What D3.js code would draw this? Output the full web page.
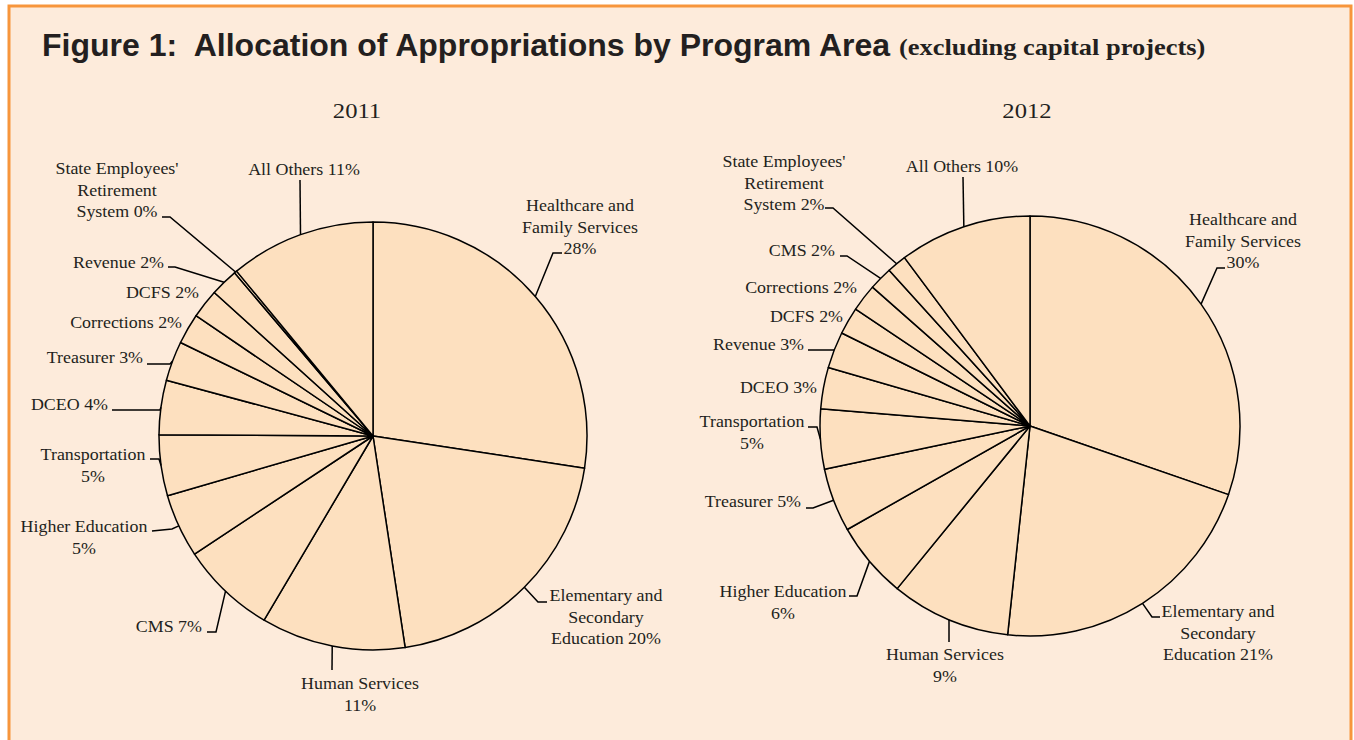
<!DOCTYPE html>
<html>
<head>
<meta charset="utf-8">
<script src="https://cdn.jsdelivr.net/npm/d3@7"></script>
<style>
  html, body { margin: 0; padding: 0; background: #ffffff; }
  svg { display: block; }
</style>
</head>
<body>
<svg id="chart"></svg>
<script>
// Chart data
const years = ["2011", "2012"];

const categories2011 = ["Healthcare and Family Services", "Elementary and Secondary Education", "Human Services",
    "CMS", "Higher Education", "Transportation", "DCEO", "Treasurer", "Corrections", "DCFS", "Revenue",
    "State Employees' Retirement System", "All Others"];
const values2011 = [27.4, 20.2, 10.9, 7.2, 4.8, 4.6, 4.1, 3.0, 2.3, 2.2, 2.1, 0.2, 11.0];
const pct2011 = [28, 20, 11, 7, 5, 5, 4, 3, 2, 2, 2, 0, 11];

const categories2012 = ["Healthcare and Family Services", "Elementary and Secondary Education", "Human Services",
    "Higher Education", "Treasurer", "Transportation", "DCEO", "Revenue", "DCFS", "Corrections", "CMS",
    "State Employees' Retirement System", "All Others"];
const values2012 = [30.3, 21.4, 9.2, 5.9, 4.9, 4.6, 3.2, 2.8, 2.1, 2.1, 1.8, 1.5, 10.2];
const pct2012 = [30, 21, 9, 6, 5, 5, 3, 3, 2, 2, 2, 2, 10];

// Label layout, relative to each pie centre: words per line, text anchor point,
// and leader line (elbow, end) points. null leader = no leader line.
const layout2011 = [
    { wrap: [2, 2, 1], anchor: "middle", x: 207, y: -225, elbow: [180, -183], end: [189, -183] },
    { wrap: [2, 1, 2], anchor: "middle", x: 233, y: 165, elbow: [165, 166], end: [174, 166] },
    { wrap: [2, 1], anchor: "middle", x: -13, y: 253, elbow: [-41, 234], end: [-41, 234] },
    { wrap: [2], anchor: "end", x: -171, y: 196, elbow: [-157, 196], end: [-166, 196] },
    { wrap: [2, 1], anchor: "middle", x: -289, y: 96, elbow: [-201, 93], end: [-221, 95] },
    { wrap: [1, 1], anchor: "middle", x: -280, y: 24, elbow: [-214, 23], end: [-223, 23] },
    { wrap: [2], anchor: "end", x: -265, y: -26, elbow: [-213, -26], end: [-261, -26] },
    { wrap: [2], anchor: "end", x: -230, y: -73, elbow: [-203, -72], end: [-226, -72] },
    { wrap: [2], anchor: "end", x: -191, y: -108, elbow: null },
    { wrap: [2], anchor: "end", x: -174, y: -138, elbow: null },
    { wrap: [2], anchor: "end", x: -209, y: -168, elbow: [-198, -169], end: [-205, -169] },
    { wrap: [2, 1, 2], anchor: "middle", x: -256, y: -262, elbow: [-203, -219], end: [-211, -219] },
    { wrap: [3], anchor: "middle", x: -69, y: -261, elbow: [-73, -256], end: [-73, -256] }
];

const layout2012 = [
    { wrap: [2, 2, 1], anchor: "middle", x: 213, y: -201, elbow: [187, -158], end: [195, -158] },
    { wrap: [2, 1, 2], anchor: "middle", x: 188, y: 191, elbow: [122, 191], end: [130, 191] },
    { wrap: [2, 1], anchor: "middle", x: -85, y: 234, elbow: [-81, 216], end: [-81, 216] },
    { wrap: [2, 1], anchor: "middle", x: -247, y: 171, elbow: [-173, 170], end: [-181, 170] },
    { wrap: [2], anchor: "end", x: -229, y: 81, elbow: [-217, 82], end: [-224, 82] },
    { wrap: [1, 1], anchor: "middle", x: -278, y: 1, elbow: [-213, 1], end: [-222, 1] },
    { wrap: [2], anchor: "end", x: -213, y: -33, elbow: null },
    { wrap: [2], anchor: "end", x: -226, y: -76, elbow: [-197, -76], end: [-222, -76] },
    { wrap: [2], anchor: "end", x: -187, y: -104, elbow: null },
    { wrap: [2], anchor: "end", x: -173, y: -133, elbow: null },
    { wrap: [2], anchor: "end", x: -195, y: -170, elbow: [-183, -170], end: [-190, -170] },
    { wrap: [2, 1, 2], anchor: "middle", x: -246, y: -259, elbow: [-197, -218], end: [-205, -218] },
    { wrap: [3], anchor: "middle", x: -68, y: -254, elbow: [-67, -249], end: [-67, -249] }
];

const width = 1354;
const height = 740;
const serif = "'Liberation Serif', 'Times New Roman', serif";
const textColor = "#231f20";
const sliceFill = "#fde0bf";
const stretch = 1.12;   // the serif face in the source is a little wider than Times

const svg = d3.select("#chart")
    .attr("width", width)
    .attr("height", height);

// Background panel with orange frame
svg.append("rect")
    .attr("x", 9).attr("y", 6)
    .attr("width", 1342).attr("height", 760)
    .attr("fill", "#fdebdb")
    .attr("stroke", "#f7963c")
    .attr("stroke-width", 3);

// Title
svg.append("text")
    .attr("x", 42).attr("y", 56)
    .attr("font-family", "'Liberation Sans', Arial, sans-serif")
    .attr("font-weight", "bold")
    .attr("font-size", 32)
    .attr("fill", textColor)
    .attr("xml:space", "preserve")
    .text("Figure 1:  Allocation of Appropriations by Program Area");

svg.append("text")
    .attr("transform", "translate(899,55) scale(1.15,1)")
    .attr("font-family", serif)
    .attr("font-weight", "bold")
    .attr("font-size", 23)
    .attr("fill", textColor)
    .text("(excluding capital projects)");

const pies = [
    { year: years[0], cx: 373, cy: 436, r: 214, titleX: 357, cats: categories2011, vals: values2011, pcts: pct2011, lay: layout2011 },
    { year: years[1], cx: 1030, cy: 426, r: 210, titleX: 1027, cats: categories2012, vals: values2012, pcts: pct2012, lay: layout2012 }
];

const pie = d3.pie().sort(null).value(d => d.value);

pies.forEach(p => {
    const data = p.cats.map((c, i) => ({ name: c, value: p.vals[i], pct: p.pcts[i], lay: p.lay[i] }));
    const arcs = pie(data);
    const arc = d3.arc().innerRadius(0).outerRadius(p.r);

    // Year heading
    svg.append("text")
        .attr("transform", `translate(${p.titleX},118) scale(${stretch},1)`)
        .attr("text-anchor", "middle")
        .attr("font-family", serif)
        .attr("font-size", 22)
        .attr("fill", textColor)
        .text(p.year);

    const g = svg.append("g")
        .attr("transform", `translate(${p.cx},${p.cy})`);

    // Slices
    g.selectAll("path.slice")
        .data(arcs)
        .enter().append("path")
        .attr("class", "slice")
        .attr("d", arc)
        .attr("fill", sliceFill)
        .attr("stroke", "#000")
        .attr("stroke-width", 1.5)
        .attr("stroke-linejoin", "round");

    // Leader lines: from the arc at the slice's middle angle to the elbow, then to the label
    const line = d3.line();
    g.selectAll("path.leader")
        .data(arcs.filter(d => d.data.lay.elbow))
        .enter().append("path")
        .attr("class", "leader")
        .attr("d", d => {
            const a = (d.startAngle + d.endAngle) / 2;
            const start = [p.r * Math.sin(a), -p.r * Math.cos(a)];
            return line([start, d.data.lay.elbow, d.data.lay.end]);
        })
        .attr("fill", "none")
        .attr("stroke", "#000")
        .attr("stroke-width", 1.5);

    // Labels
    arcs.forEach(d => {
        const lay = d.data.lay;
        const words = (d.data.name + " " + d.data.pct + "%").split(" ");
        const lines = [];
        let k = 0;
        lay.wrap.forEach((n, li) => {
            const take = li === lay.wrap.length - 1 ? words.length - k : n;
            lines.push(words.slice(k, k + take).join(" "));
            k += take;
        });
        lines.forEach((txt, li) => {
            g.append("text")
                .attr("transform", `translate(${lay.x},${lay.y + li * 21.5}) scale(${stretch},1)`)
                .attr("text-anchor", lay.anchor)
                .attr("font-family", serif)
                .attr("font-size", 16)
                .attr("fill", textColor)
                .text(txt);
        });
    });
});
</script>
</body>
</html>
